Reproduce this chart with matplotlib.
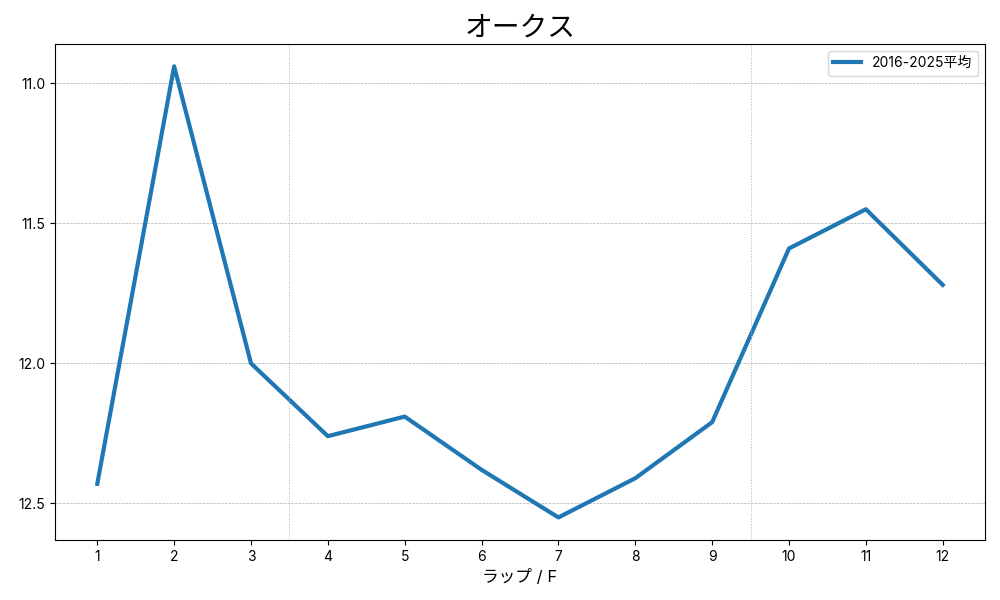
import matplotlib
matplotlib.use("Agg")
import matplotlib.pyplot as plt

plt.rcParams['font.family'] = ['Inter', 'Noto Sans CJK JP', 'DejaVu Sans']

laps = [1, 2, 3, 4, 5, 6, 7, 8, 9, 10, 11, 12]
avg_times = [12.43, 10.94, 12.00, 12.26, 12.19, 12.38, 12.55, 12.41, 12.21, 11.59, 11.45, 11.72]
section_marks = [3.5, 9.5]

fig, ax = plt.subplots(figsize=(10, 6), dpi=100)
ax.plot(laps, avg_times, color='#1f77b4', linewidth=3, label='2016-2025平均')
ax.invert_yaxis()
ax.set_xticks(laps)
ax.set_yticks([11.0, 11.5, 12.0, 12.5])
ax.grid(axis='y', linestyle='--', linewidth=0.5, color='#b0b0b0')
for xm in section_marks:
    ax.axvline(xm, color='#b0b0b0', linestyle=':', linewidth=0.7)
ax.set_title('オークス', fontsize=20)
ax.set_xlabel('ラップ / F', fontsize=12)
ax.legend(loc='upper right')
fig.subplots_adjust(left=0.055, right=0.985, top=0.927, bottom=0.1)
fig.savefig('out.png')
